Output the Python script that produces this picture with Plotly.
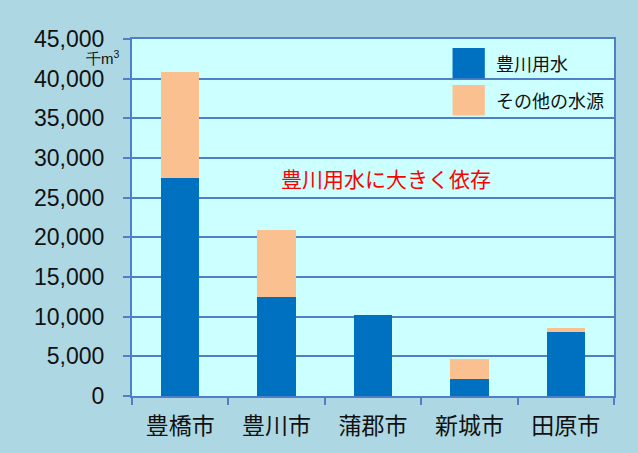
import plotly.graph_objects as go

cities = ["豊橋市", "豊川市", "蒲郡市", "新城市", "田原市"]
toyogawa_water = [27500, 12500, 10200, 2150, 8050]
other_sources = [13400, 8400, 0, 2500, 500]

COLOR_BLUE = "#0070C0"
COLOR_PEACH = "#FAC090"
GRID_BLUE = "#4F7FC6"
JP_FONT = "Noto Sans CJK JP"

fig = go.Figure()

fig.add_trace(go.Bar(
    x=cities, y=toyogawa_water, name="豊川用水",
    marker=dict(color=COLOR_BLUE, line=dict(width=0)),
    width=0.4, showlegend=False
))
fig.add_trace(go.Bar(
    x=cities, y=other_sources, name="その他の水源",
    marker=dict(color=COLOR_PEACH, line=dict(width=0)),
    width=0.4, showlegend=False
))

# big square legend swatches like the original
legend_items = [("豊川用水", COLOR_BLUE), ("その他の水源", COLOR_PEACH)]
for i, (label, col) in enumerate(legend_items):
    y_top = 0.975 - i * 0.104
    fig.add_shape(type="rect", xref="paper", yref="paper",
                  x0=0.665, x1=0.732, y0=y_top - 0.085, y1=y_top,
                  fillcolor=col, line=dict(width=0))
    fig.add_annotation(xref="paper", yref="paper", x=0.752, y=y_top - 0.042,
                       text=label, showarrow=False, xanchor="left", yanchor="middle",
                       font=dict(family=JP_FONT, size=18, color="#111111"))

fig.add_annotation(xref="paper", yref="paper", x=0.527, y=0.61,
                   text="豊川用水に大きく依存", showarrow=False,
                   font=dict(family=JP_FONT, size=21, color="#FF0000"))

fig.add_annotation(xref="paper", yref="paper", x=-0.021, y=0.948,
                   text="千m<sup>3</sup>", showarrow=False, xanchor="right", yanchor="middle",
                   font=dict(family="Liberation Sans", size=15, color="#111111"))

fig.update_layout(
    barmode="stack",
    width=638, height=453,
    margin=dict(l=132, r=24, t=39, b=57),
    paper_bgcolor="#ADD8E3",
    plot_bgcolor="#CCFFFF",
    xaxis=dict(
        showline=True, linecolor=GRID_BLUE, linewidth=2, mirror=True,
        ticks="outside", tickson="boundaries", ticklen=7, tickcolor=GRID_BLUE, tickwidth=1.5,
        ticklabelstandoff=8,
        tickfont=dict(family=JP_FONT, size=23, color="#111111"),
        showgrid=False,
    ),
    yaxis=dict(
        range=[0, 45000], dtick=5000, tickformat=",",
        showline=True, linecolor=GRID_BLUE, linewidth=2, mirror=True,
        ticks="outside", ticklen=7, tickcolor=GRID_BLUE, tickwidth=1.5,
        ticklabelstandoff=14,
        gridcolor=GRID_BLUE, gridwidth=1.5, zeroline=False,
        tickfont=dict(family="Liberation Sans", size=23, color="#111111"),
    ),
)

fig.write_html("out.html", config={"displayModeBar": False},
               post_script="document.body.style.margin='0';")
